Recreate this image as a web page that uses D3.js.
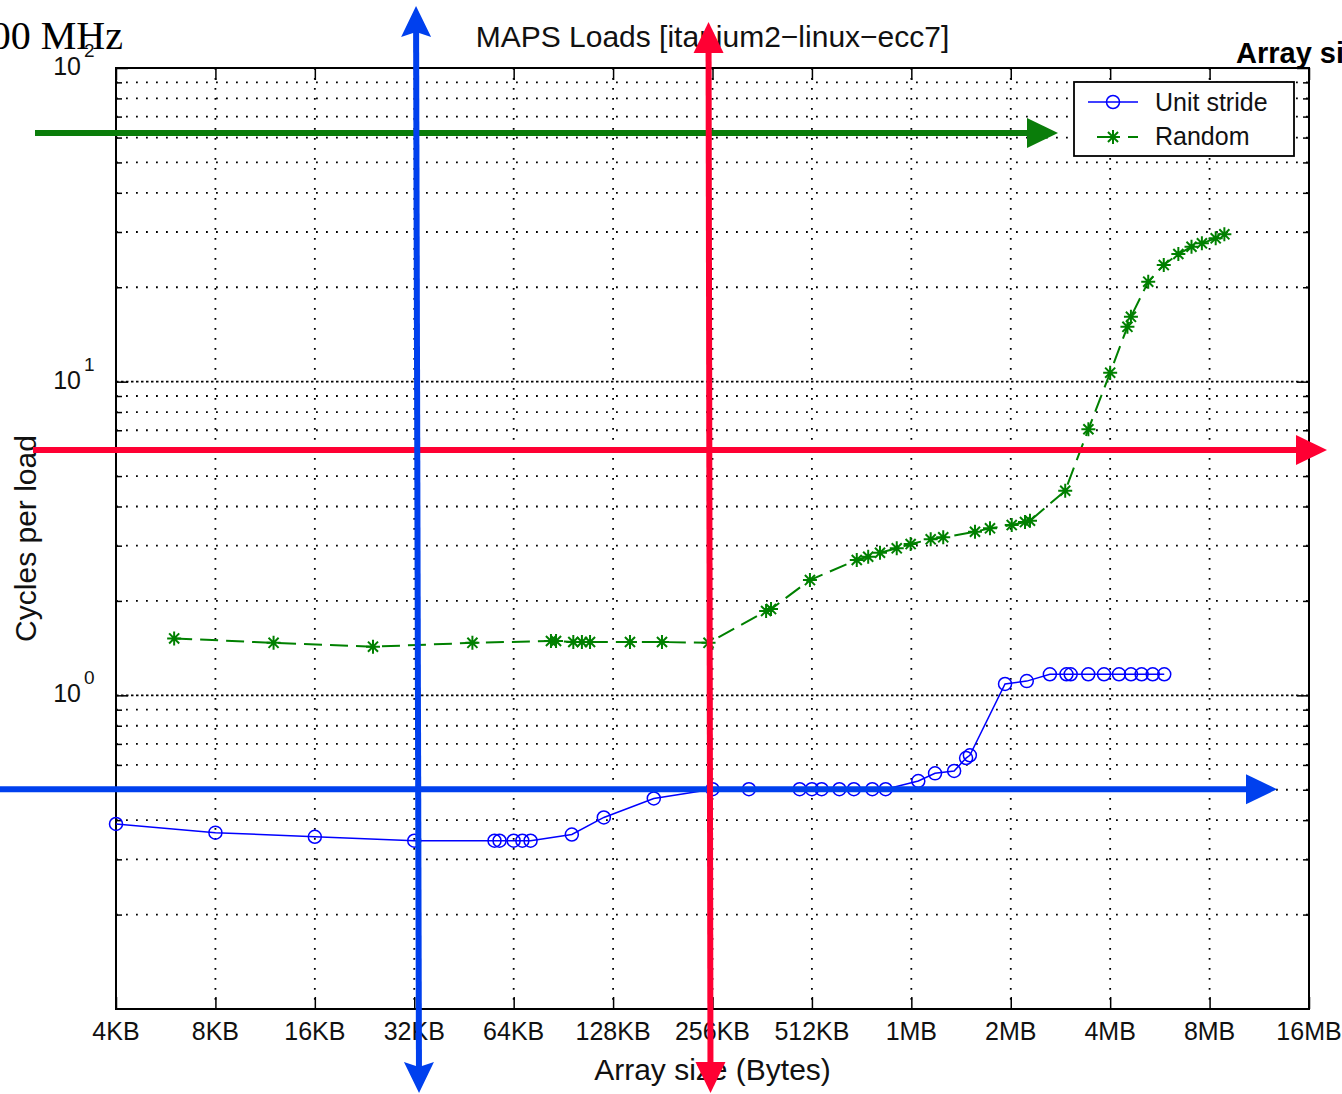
<!DOCTYPE html>
<html>
<head>
<meta charset="utf-8">
<script src="https://cdn.jsdelivr.net/npm/d3@7"></script>
<style>
  html, body { margin: 0; padding: 0; background: #fff; overflow: hidden; }
  svg { display: block; font-family: 'Liberation Sans', Arial, sans-serif; }
</style>
</head>
<body>
<div id="chart"></div>
<script>
// Unit stride series (array size in KB, cycles per load)
const unitSizesKB = [4, 8, 16, 32, 56, 58, 64, 68, 72, 96, 120, 170,
  256, 330, 470, 512, 548, 620, 686, 780, 856,
  1075, 1208, 1380, 1500, 1540, 1968, 2290,
  2690, 3020, 3110, 3516, 3924, 4356, 4736, 5100, 5510, 5972];
const unitCycles = [0.389, 0.365, 0.354, 0.344, 0.344, 0.344, 0.344, 0.344, 0.344, 0.360, 0.408, 0.469,
  0.502, 0.502, 0.502, 0.502, 0.502, 0.502, 0.502, 0.502, 0.502,
  0.533, 0.564, 0.574, 0.631, 0.644, 1.087, 1.11,
  1.167, 1.167, 1.167, 1.167, 1.167, 1.167, 1.167, 1.167, 1.167, 1.167];

// Random series
const randomSizesKB = [6, 12, 24, 48, 83, 86, 97, 103, 109, 144, 180, 249,
  372, 385, 505, 700, 758, 823, 925, 1019, 1172, 1279, 1596, 1772,
  2062, 2262, 2342, 2994, 3519, 4096, 4620, 4734,
  5341, 5952, 6589, 7222, 7764, 8549, 9081];
const randomCycles = [1.519, 1.47, 1.429, 1.47, 1.49, 1.49, 1.479, 1.479, 1.479, 1.479, 1.479, 1.47,
  1.857, 1.884, 2.331, 2.70, 2.766, 2.849, 2.942, 3.036, 3.143, 3.189, 3.323, 3.407,
  3.49, 3.568, 3.603, 4.49, 7.05, 10.68, 14.96, 16.1,
  20.83, 23.54, 25.52, 26.92, 27.6, 28.64, 29.5];

const seriesNames = ['Unit stride', 'Random'];

const xTickValues = [4, 8, 16, 32, 64, 128, 256, 512, 1024, 2048, 4096, 8192, 16384];
const xTickLabels = ['4KB', '8KB', '16KB', '32KB', '64KB', '128KB', '256KB', '512KB',
  '1MB', '2MB', '4MB', '8MB', '16MB'];
const yMajorTicks = [1, 10, 100];
const yMajorExponents = ['0', '1', '2'];

const titleText = 'MAPS Loads [itanium2\u2212linux\u2212ecc7]';
const xLabelText = 'Array size (Bytes)';
const yLabelText = 'Cycles per load';

const width = 1342;
const height = 1094;
const plot = { left: 116, right: 1309, top: 68, bottom: 1009 };

const blue = '#0000ff';
const green = '#008000';

const svg = d3.select('#chart')
  .append('svg')
  .attr('width', width)
  .attr('height', height);

const x = d3.scaleLog().base(2)
  .domain([4, 16384])
  .range([plot.left, plot.right]);

const y = d3.scaleLog()
  .domain([0.1, 100])
  .range([plot.bottom, plot.top]);

const allYTicks = y.ticks();
const yMinor = allYTicks.filter((v) => !yMajorTicks.includes(v) && v > 0.1 && v < 100);

// Grid (matlab style dotted)
const grid = svg.append('g').attr('class', 'grid')
  .attr('stroke', '#000')
  .attr('stroke-width', 1.8)
  .attr('fill', 'none');

grid.selectAll('line.gx')
  .data(xTickValues.slice(1, -1))
  .enter()
  .append('line')
  .attr('class', 'gx')
  .attr('x1', (d) => x(d))
  .attr('x2', (d) => x(d))
  .attr('y1', plot.top)
  .attr('y2', plot.bottom)
  .attr('stroke-dasharray', '1.8,8.2');

grid.selectAll('line.gymin')
  .data(yMinor)
  .enter()
  .append('line')
  .attr('class', 'gymin')
  .attr('x1', plot.left)
  .attr('x2', plot.right)
  .attr('y1', (d) => y(d))
  .attr('y2', (d) => y(d))
  .attr('stroke-dasharray', '1.8,8.2');

grid.selectAll('line.gymaj')
  .data(yMajorTicks.slice(0, -1))
  .enter()
  .append('line')
  .attr('class', 'gymaj')
  .attr('x1', plot.left)
  .attr('x2', plot.right)
  .attr('y1', (d) => y(d))
  .attr('y2', (d) => y(d))
  .attr('stroke-dasharray', '2.5,2.5');

// Axes box with inward ticks
const axisStyle = (g) => {
  g.select('.domain').remove();
  g.selectAll('.tick line').attr('stroke', '#000').attr('stroke-width', 1.5);
  g.selectAll('.tick text').remove();
};

svg.append('g')
  .attr('transform', `translate(0,${plot.bottom})`)
  .call(d3.axisBottom(x).tickValues(xTickValues).tickSize(-12))
  .call(axisStyle);
svg.append('g')
  .attr('transform', `translate(0,${plot.top})`)
  .call(d3.axisTop(x).tickValues(xTickValues).tickSize(-12))
  .call(axisStyle);
svg.append('g')
  .attr('transform', `translate(${plot.left},0)`)
  .call(d3.axisLeft(y).tickValues(yMajorTicks).tickSize(-12))
  .call(axisStyle);
svg.append('g')
  .attr('transform', `translate(${plot.left},0)`)
  .call(d3.axisLeft(y).tickValues(yMinor).tickSize(-6))
  .call(axisStyle);
svg.append('g')
  .attr('transform', `translate(${plot.right},0)`)
  .call(d3.axisRight(y).tickValues(yMajorTicks).tickSize(-12))
  .call(axisStyle);
svg.append('g')
  .attr('transform', `translate(${plot.right},0)`)
  .call(d3.axisRight(y).tickValues(yMinor).tickSize(-6))
  .call(axisStyle);

svg.append('rect')
  .attr('x', plot.left)
  .attr('y', plot.top)
  .attr('width', plot.right - plot.left)
  .attr('height', plot.bottom - plot.top)
  .attr('fill', 'none')
  .attr('stroke', '#000')
  .attr('stroke-width', 2);

// Tick labels
svg.append('g')
  .selectAll('text')
  .data(xTickValues)
  .enter()
  .append('text')
  .attr('x', (d) => x(d))
  .attr('y', plot.bottom + 31)
  .attr('text-anchor', 'middle')
  .attr('font-size', 25)
  .attr('fill', '#111')
  .text((d, i) => xTickLabels[i]);

const yLab = svg.append('g')
  .selectAll('g')
  .data(yMajorTicks)
  .enter()
  .append('g');
yLab.append('text')
  .attr('x', 81)
  .attr('y', (d) => y(d) + 7)
  .attr('text-anchor', 'end')
  .attr('font-size', 25)
  .attr('fill', '#111')
  .text('10');
yLab.append('text')
  .attr('x', 84)
  .attr('y', (d) => y(d) - 11)
  .attr('font-size', 19)
  .attr('fill', '#111')
  .text((d, i) => yMajorExponents[i]);

// Titles
svg.append('text')
  .attr('x', (plot.left + plot.right) / 2)
  .attr('y', 47)
  .attr('text-anchor', 'middle')
  .attr('font-size', 30)
  .attr('fill', '#111')
  .text(titleText);

svg.append('text')
  .attr('x', (plot.left + plot.right) / 2)
  .attr('y', 1080)
  .attr('text-anchor', 'middle')
  .attr('font-size', 30)
  .attr('fill', '#111')
  .text(xLabelText);

svg.append('text')
  .attr('transform', `translate(36,${(plot.top + plot.bottom) / 2}) rotate(-90)`)
  .attr('text-anchor', 'middle')
  .attr('font-size', 30)
  .attr('fill', '#111')
  .text(yLabelText);

// Series
const unitData = unitSizesKB.map((s, i) => ({ size: s, cycles: unitCycles[i] }));
const randomData = randomSizesKB.map((s, i) => ({ size: s, cycles: randomCycles[i] }));

const line = d3.line()
  .x((d) => x(d.size))
  .y((d) => y(d.cycles));

svg.append('path')
  .datum(unitData)
  .attr('d', line)
  .attr('fill', 'none')
  .attr('stroke', blue)
  .attr('stroke-width', 1.5);

svg.append('g')
  .selectAll('circle')
  .data(unitData)
  .enter()
  .append('circle')
  .attr('cx', (d) => x(d.size))
  .attr('cy', (d) => y(d.cycles))
  .attr('r', 6.5)
  .attr('fill', 'none')
  .attr('stroke', blue)
  .attr('stroke-width', 1.5);

svg.append('path')
  .datum(randomData)
  .attr('d', line)
  .attr('fill', 'none')
  .attr('stroke', green)
  .attr('stroke-width', 2)
  .attr('stroke-dasharray', '18,8');

const starPath = (r) => {
  const k = r * 0.72;
  return `M${-r},0L${r},0M0,${-r}L0,${r}M${-k},${-k}L${k},${k}M${-k},${k}L${k},${-k}`;
};

svg.append('g')
  .selectAll('path')
  .data(randomData)
  .enter()
  .append('path')
  .attr('transform', (d) => `translate(${x(d.size)},${y(d.cycles)})`)
  .attr('d', starPath(7))
  .attr('fill', 'none')
  .attr('stroke', green)
  .attr('stroke-width', 2);

// Legend
const legend = svg.append('g').attr('class', 'legend');
legend.append('rect')
  .attr('x', 1074)
  .attr('y', 82)
  .attr('width', 220)
  .attr('height', 74)
  .attr('fill', '#fff')
  .attr('stroke', '#000')
  .attr('stroke-width', 1.8);
legend.append('line')
  .attr('x1', 1088).attr('x2', 1138)
  .attr('y1', 102).attr('y2', 102)
  .attr('stroke', blue).attr('stroke-width', 1.5);
legend.append('circle')
  .attr('cx', 1113).attr('cy', 102).attr('r', 6.5)
  .attr('fill', 'none').attr('stroke', blue).attr('stroke-width', 1.5);
legend.append('line')
  .attr('x1', 1097).attr('x2', 1138)
  .attr('y1', 137).attr('y2', 137)
  .attr('stroke', green).attr('stroke-width', 2)
  .attr('stroke-dasharray', '10,21');
legend.append('path')
  .attr('transform', 'translate(1113,137)')
  .attr('d', starPath(7))
  .attr('fill', 'none').attr('stroke', green).attr('stroke-width', 2);
legend.selectAll('text.lbl')
  .data(seriesNames)
  .enter()
  .append('text')
  .attr('class', 'lbl')
  .attr('x', 1155)
  .attr('y', (d, i) => 111 + i * 34)
  .attr('font-size', 25)
  .attr('fill', '#111')
  .text((d) => d);

// Slide overlay text
svg.append('text')
  .attr('x', 123)
  .attr('y', 49)
  .attr('text-anchor', 'end')
  .attr('font-family', "'Liberation Serif', 'Times New Roman', serif")
  .attr('font-size', 40)
  .attr('fill', '#000')
  .text('00 MHz');

svg.append('text')
  .attr('x', 1236)
  .attr('y', 63)
  .attr('font-size', 29)
  .attr('font-weight', 'bold')
  .attr('fill', '#000')
  .text('Array size');

// Annotation arrows
const drawArrow = (g, x1, y1, x2, y2, color, bothEnds, notch) => {
  const len = Math.hypot(x2 - x1, y2 - y1);
  const ux = (x2 - x1) / len;
  const uy = (y2 - y1) / len;
  const nx = -uy;
  const ny = ux;
  const L = 31;
  const W = 15;
  const head = (tx, ty, dx, dy) => {
    const bx = tx - dx * L;
    const by = ty - dy * L;
    const mx = tx - dx * (L - notch);
    const my = ty - dy * (L - notch);
    return `M${tx},${ty}L${bx + nx * W},${by + ny * W}L${mx},${my}L${bx - nx * W},${by - ny * W}Z`;
  };
  const sx = bothEnds ? x1 + ux * (L - notch) : x1;
  const sy = bothEnds ? y1 + uy * (L - notch) : y1;
  g.append('line')
    .attr('x1', sx).attr('y1', sy)
    .attr('x2', x2 - ux * (L - notch - 1)).attr('y2', y2 - uy * (L - notch - 1))
    .attr('stroke', color).attr('stroke-width', 6);
  g.append('path').attr('d', head(x2, y2, ux, uy)).attr('fill', color);
  if (bothEnds) {
    g.append('path').attr('d', head(x1, y1, -ux, -uy)).attr('fill', color);
  }
};

const arrows = svg.append('g').attr('class', 'arrows');
drawArrow(arrows, 35, y(62), 1058, y(62), '#0a7d0a', false, 0);
drawArrow(arrows, 33, y(6.05), 1327, y(6.05), '#ff0033', false, 0);
drawArrow(arrows, 0, y(0.502), 1277, y(0.502), '#0040ee', false, 0);
drawArrow(arrows, x(32.4), 6, x(32.4) + 3, 1093, '#0040ee', true, 5);
drawArrow(arrows, x(249), 22, x(249) + 2, 1093, '#ff0033', true, 0);
</script>
</body>
</html>
